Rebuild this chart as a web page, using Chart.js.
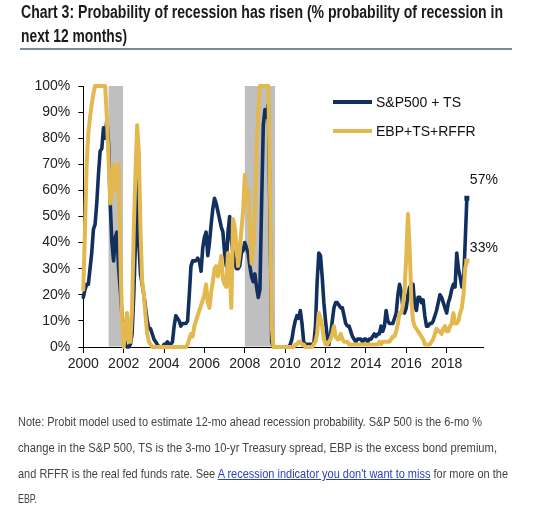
<!DOCTYPE html>
<html>
<head>
<meta charset="utf-8">
<script src="https://cdn.jsdelivr.net/npm/chart.js@4.4.1/dist/chart.umd.min.js"></script>
<style>
  html, body { margin: 0; padding: 0; background: #fff; }
  #wrap { position: relative; width: 560px; height: 509px; overflow: hidden; font-family: "Liberation Sans", Arial, sans-serif; }
  #c { position: absolute; left: 0; top: 0; }
  .t { position: absolute; white-space: nowrap; display: inline-block; transform-origin: 0 50%; }
  .title { font-weight: bold; font-size: 18px; line-height: 20px; color: #1a1a1a; left: 21px; }
  .note { font-size: 13px; line-height: 16px; color: #444; left: 18px; }
  .note a { color: #2b3fc2; text-decoration: underline; }
  .rule { position: absolute; left: 20px; top: 48px; width: 492px; height: 2px; background: #7d8aa3; }
  .lg { font-size: 14px; line-height: 16px; color: #111; left: 376px; }
  .lgline { position: absolute; left: 333px; width: 39px; height: 4px; }
</style>
</head>
<body>
<div id="wrap">
  <canvas id="c" width="560" height="509"></canvas>
  <div class="t title" style="top:2px" data-w="482">Chart 3: Probability of recession has risen (% probability of recession in</div>
  <div class="t title" style="top:26px" data-w="106">next 12 months)</div>
  <div class="rule"></div>
  <div class="lgline" style="top:100px;background:#12305f"></div>
  <div class="t lg" style="top:94px">S&amp;P500 + TS</div>
  <div class="lgline" style="top:129px;background:#e3b84f"></div>
  <div class="t lg" style="top:123px">EBP+TS+RFFR</div>
  <div class="t note" style="top:414px" data-w="464">Note: Probit model used to estimate 12-mo ahead recession probability. S&amp;P 500 is the 6-mo %</div>
  <div class="t note" style="top:440px" data-w="479">change in the S&amp;P 500, TS is the 3-mo 10-yr Treasury spread, EBP is the excess bond premium,</div>
  <div class="t note" style="top:466px" data-w="490">and RFFR is the real fed funds rate. See <a>A recession indicator you don't want to miss</a> for more on the</div>
  <div class="t note" style="top:491px" data-w="19">EBP.</div>
</div>
<script>
// ---- Data (monthly, Jan 2000 - Jan 2019), % probability of recession ----
const startYear = 2000;
const sp500ts = [
  19, 22, 24, 24, 30, 36, 45, 47, 55, 66, 75, 76,   // 2000
  84, 80, 87, 78, 55, 40, 33, 42, 44, 30, 22, 12,   // 2001
  5, 1, 0, 0, 1, 5, 20, 40, 67, 40, 28, 24,         // 2002
  20, 15, 10, 7, 7, 5, 3, 2, 1, 0, 0, 0,            // 2003
  1, 1, 2, 1, 1, 2, 8, 12, 11, 10, 8, 9,            // 2004
  9, 9, 10, 20, 31, 33, 33, 33, 34, 33, 29, 38,     // 2005
  42, 44, 35, 40, 47, 53, 57, 55, 52, 49, 46, 44,   // 2006
  36, 31, 44, 50, 41, 36, 33, 30, 30, 31, 36, 37,   // 2007
  40, 38, 36, 31, 27, 25, 28, 23, 19, 22, 55, 85,   // 2008
  91, 88, 93, 50, 2, 0, 0, 0, 0, 0, 0, 0,           // 2009
  0, 0, 0, 1, 3, 7, 10, 12, 11, 14, 9, 2,           // 2010
  1, 1, 1, 1, 1, 1, 8, 25, 36, 35, 27, 17,          // 2011
  10, 4, 1, 5, 10, 15, 17, 17, 16, 15, 15, 12,      // 2012
  9, 8, 8, 6, 4, 3, 2, 3, 3, 3, 2, 3,               // 2013
  3, 2, 3, 3, 4, 5, 4, 5, 5, 8, 6, 8,               // 2014
  14, 10, 9, 9, 9, 11, 13, 20, 24, 21, 15, 13,      // 2015
  15, 20, 23, 23, 24, 16, 14, 19, 19, 17, 18, 12,   // 2016
  8, 8, 9, 9, 10, 12, 14, 17, 20, 19, 17, 15,       // 2017
  13, 17, 19, 22, 24, 23, 36, 30, 27, 23, 24, 40,   // 2018
  57                                                // 2019
];
const ebpTsRffr = [
  22, 45, 70, 82, 88, 93, 97, 100, 100, 100, 100, 100, // 2000
  100, 100, 88, 72, 55, 58, 70, 65, 60, 70, 35, 10,    // 2001
  0, 8, 13, 2, 2, 15, 45, 66, 85, 75, 45, 25,          // 2002
  20, 12, 5, 2, 1, 0, 0, 0, 0, 0, 0, 0,                // 2003
  0, 0, 0, 0, 0, 0, 0, 0, 0, 0, 0, 0,                  // 2004
  0, 0, 1, 3, 5, 4, 8, 10, 12, 14, 16, 18,             // 2005
  20, 24, 17, 15, 21, 25, 30, 31, 27, 30, 35, 26,      // 2006
  24, 23, 36, 31, 15, 49, 46, 40, 31, 36, 45, 52,      // 2007
  66, 55, 60, 45, 32, 38, 50, 75, 90, 100, 100, 100,   // 2008
  100, 100, 100, 60, 8, 0, 0, 0, 0, 0, 0, 0,           // 2009
  0, 0, 0, 0, 0, 0, 1, 1, 2, 2, 1, 1,                  // 2010
  0, 0, 0, 0, 0, 1, 2, 5, 13, 11, 8, 3,                // 2011
  1, 1, 2, 3, 5, 8, 4, 3, 3, 5, 3, 2,                  // 2012
  2, 2, 1, 1, 1, 1, 1, 1, 1, 1, 1, 1,                  // 2013
  1, 1, 1, 1, 1, 1, 1, 1, 2, 1, 2, 2,                  // 2014
  2, 2, 2, 3, 4, 4, 6, 9, 13, 13, 16, 22,              // 2015
  35, 51, 38, 18, 10, 8, 7, 6, 5, 4, 3, 1,             // 2016
  1, 1, 1, 2, 3, 5, 7, 6, 6, 5, 7, 8,                  // 2017
  6, 6, 8, 9, 13, 9, 9, 10, 13, 15, 20, 30,            // 2018
  33                                                   // 2019
];
const seriesNames = ["S&P500 + TS", "EBP+TS+RFFR"];
const xTickYears = [2000, 2002, 2004, 2006, 2008, 2010, 2012, 2014, 2016, 2018];
const yTickValues = [0, 10, 20, 30, 40, 50, 60, 70, 80, 90, 100];
const recessionStart = [2001.25, 2008.0];
const recessionEnd = [2001.97, 2009.5];

// ---- Build ----
const toPoints = arr => arr.map((v, i) => ({ x: startYear + i / 12, y: v }));
const NAVY = '#12305f', GOLD = '#e3b84f';
const FONT = '"Liberation Sans", Arial, sans-serif';

const recessionPlugin = {
  id: 'recessions',
  beforeDatasetsDraw(chart) {
    const { ctx, chartArea: a, scales: { x } } = chart;
    ctx.save();
    ctx.fillStyle = '#bfbfbf';
    recessionStart.forEach((s, i) => {
      const x0 = x.getPixelForValue(s), x1 = x.getPixelForValue(recessionEnd[i]);
      ctx.fillRect(x0, a.top, x1 - x0, a.bottom - a.top - 0.5);
    });
    ctx.restore();
  }
};
const labelOffsets = [18, 13];
const endLabelPlugin = {
  id: 'endLabels',
  afterDatasetsDraw(chart) {
    const { ctx } = chart;
    ctx.save();
    ctx.font = '14px ' + FONT;
    ctx.fillStyle = '#111';
    ctx.textAlign = 'left';
    ctx.textBaseline = 'middle';
    chart.data.datasets.forEach((ds, di) => {
      const meta = chart.getDatasetMeta(di);
      const last = meta.data[meta.data.length - 1];
      const v = ds.data[ds.data.length - 1].y;
      ctx.fillText(Math.round(v) + '%', last.x + 3, last.y - labelOffsets[di]);
    });
    ctx.restore();
  }
};

const lastIdx = arr => ctx => (ctx.dataIndex === arr.length - 1 ? 3.5 : 0);

new Chart(document.getElementById('c'), {
  type: 'line',
  data: {
    datasets: [
      { label: seriesNames[0], data: toPoints(sp500ts), borderColor: NAVY, backgroundColor: NAVY,
        borderWidth: 3.6, pointRadius: lastIdx(sp500ts), pointStyle: 'rect', pointBorderWidth: 0,
        tension: 0, borderJoinStyle: 'round', borderCapStyle: 'round', clip: 6, order: 1 },
      { label: seriesNames[1], data: toPoints(ebpTsRffr), borderColor: GOLD, backgroundColor: GOLD,
        borderWidth: 4, pointRadius: lastIdx(ebpTsRffr), pointStyle: 'rect', pointBorderWidth: 0,
        tension: 0, borderJoinStyle: 'round', borderCapStyle: 'round', clip: 6, order: 0 }
    ]
  },
  options: {
    responsive: false,
    animation: false,
    devicePixelRatio: 1,
    layout: { padding: { left: 0, top: 86, right: 77, bottom: 132 } },
    plugins: { legend: { display: false }, tooltip: { enabled: false } },
    scales: {
      x: {
        type: 'linear', min: 2000, max: 2019.8,
        afterBuildTicks: s => { s.ticks = xTickYears.map(v => ({ value: v })); },
        afterFit: s => { s.height = 30; },
        grid: { display: true, drawOnChartArea: false, drawTicks: true, tickLength: 6, color: '#000' },
        border: { display: true, color: '#000', width: 1 },
        ticks: { font: { family: FONT, size: 14 }, color: '#222', padding: 3, maxRotation: 0, autoSkip: false,
                 callback: v => String(v) }
      },
      y: {
        min: 0, max: 100,
        afterBuildTicks: s => { s.ticks = yTickValues.map(v => ({ value: v })); },
        afterFit: s => { s.width = 83.3; },
        grid: { display: true, drawOnChartArea: false, drawTicks: true, tickLength: 5, color: '#000' },
        border: { display: true, color: '#000', width: 1 },
        ticks: { font: { family: FONT, size: 14 }, color: '#222', padding: 8, callback: v => v + '%' }
      }
    }
  },
  plugins: [recessionPlugin, endLabelPlugin]
});

// fit condensed text lines to their measured widths
document.querySelectorAll('[data-w]').forEach(el => {
  const w = el.getBoundingClientRect().width;
  el.style.transform = 'scaleX(' + (parseFloat(el.dataset.w) / w) + ')';
});
</script>
</body>
</html>
